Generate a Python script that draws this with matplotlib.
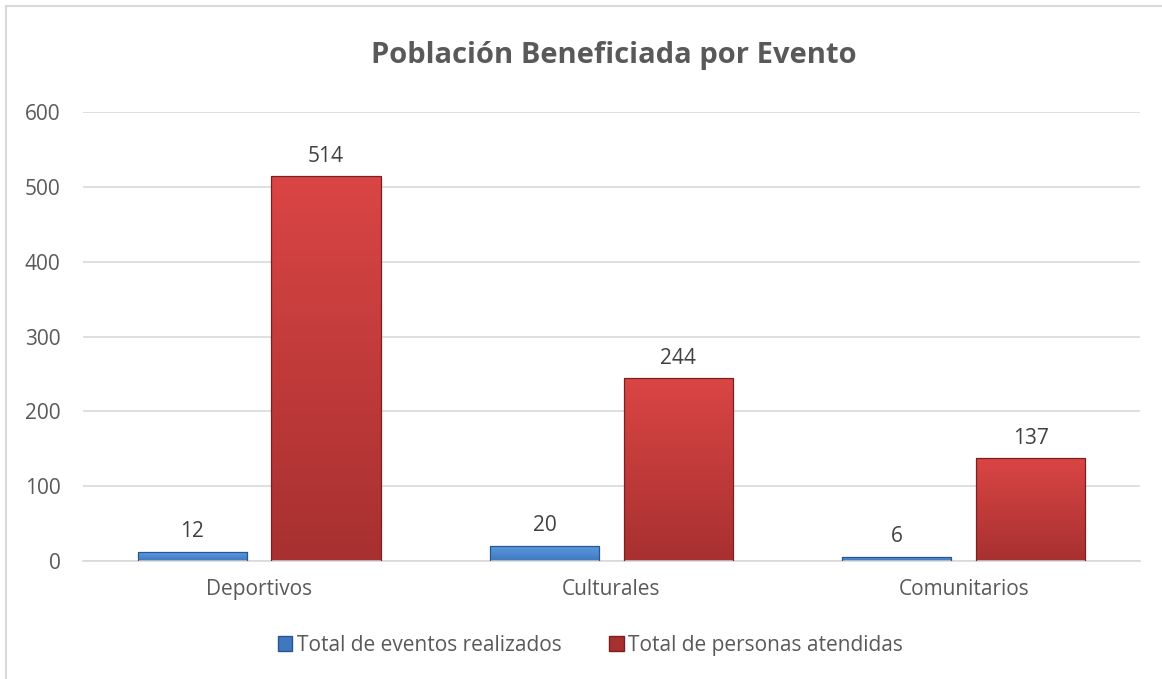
import matplotlib.pyplot as plt
import numpy as np
from matplotlib.colors import LinearSegmentedColormap
from matplotlib.lines import Line2D
from matplotlib.patches import Patch

# Datos del gráfico
categorias = ['Deportivos', 'Culturales', 'Comunitarios']
eventos = [12, 20, 6]
personas = [514, 244, 137]
series = ['Total de eventos realizados', 'Total de personas atendidas']

plt.rcParams['font.family'] = ['Open Sans', 'DejaVu Sans']
gris = '#595959'

# Colores (arriba, abajo, borde) para cada serie
estilos = [
    ('#5B9BE0', '#3F78C0', '#2A5590'),
    ('#DA4545', '#A83030', '#7A2020'),
]


def barra_degradada(ax, barra, c_arriba, c_abajo, borde):
    # Relleno con degradado vertical recortado a la barra
    x0, y0 = barra.get_x(), barra.get_y()
    w, h = barra.get_width(), barra.get_height()
    cmap = LinearSegmentedColormap.from_list('g', [c_abajo, c_arriba])
    grad = np.linspace(0, 1, 256).reshape(-1, 1)
    img = ax.imshow(grad, cmap=cmap, origin='lower', aspect='auto',
                    extent=[x0, x0 + w, y0, y0 + h], zorder=2)
    img.set_clip_path(barra)
    barra.set_facecolor('none')
    barra.set_edgecolor(borde)
    barra.set_linewidth(0.9)
    barra.set_zorder(3)


fig = plt.figure(figsize=(11.62, 6.79), dpi=100)
ax = fig.add_axes([0.0714, 0.1738, 0.9096, 0.6612])

x = np.arange(len(categorias))
ancho = 0.31
desp = 0.19

for i, (valores, (ca, cb, borde)) in enumerate(zip([eventos, personas], estilos)):
    pos = x + (desp if i else -desp)
    barras = ax.bar(pos, valores, width=ancho)
    for b, v in zip(barras, valores):
        barra_degradada(ax, b, ca, cb, borde)
        ax.annotate(str(v), (b.get_x() + b.get_width() / 2, v),
                    xytext=(0, 7), textcoords='offset points',
                    ha='center', va='bottom', fontsize=15, color='#404040')

ax.set_xlim(-0.5, len(categorias) - 0.5)
ax.set_ylim(0, 600)
ax.set_yticks(range(0, 601, 100))
ax.set_xticks(x)
ax.set_xticklabels(categorias)
ax.tick_params(axis='both', length=0, labelsize=15, labelcolor=gris)
ax.tick_params(axis='y', pad=16)
ax.tick_params(axis='x', pad=13)
ax.grid(axis='y', color='#D9D9D9', linewidth=1.2)
ax.set_axisbelow(True)
for s in ['top', 'right', 'left']:
    ax.spines[s].set_visible(False)
ax.spines['bottom'].set_color('#D9D9D9')
ax.spines['bottom'].set_linewidth(1.2)

fig.text(0.528, 0.918, 'Población Beneficiada por Evento', ha='center', va='center',
         fontsize=21, fontweight='bold', color=gris)

manejadores = [Patch(facecolor=cb, edgecolor=borde, label=s)
               for s, (ca, cb, borde) in zip(series, estilos)]
fig.legend(handles=manejadores, loc='center', bbox_to_anchor=(0.508, 0.05),
           ncol=2, frameon=False, fontsize=15, labelcolor=gris,
           handlelength=0.7, handleheight=0.7, handletextpad=0.2, columnspacing=2.3)

# Borde del área del gráfico (solo visible arriba e izquierda)
fig.add_artist(Line2D([0.0055, 0.0055], [0, 0.991], color='#D9D9D9', lw=1.5))
fig.add_artist(Line2D([0.0055, 1], [0.991, 0.991], color='#D9D9D9', lw=1.5))

fig.savefig('out.png', dpi=100, facecolor='white')
